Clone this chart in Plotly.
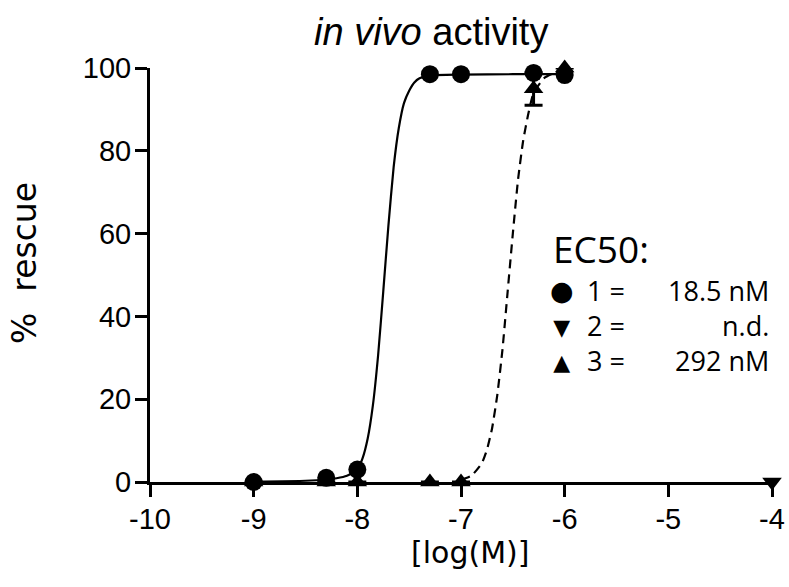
import plotly.graph_objects as go

# Measured points
x_doses = [-9, -8.3, -8, -7.3, -7, -6.3, -6]
y_cmp1 = [0, 1, 3, 98.5, 98.5, 98.8, 98.3]
x_cmp2 = [-4]
y_cmp2 = [0]
y_cmp3 = [0, 0, 0, 0, 0, 95, 100]
err_cmp3 = [0, 0, 0, 0, 0, 4, 0]

# Fitted curves
fit1_x = [-9, -8.5, -8.3, -8.2, -8.1, -8.0, -7.95, -7.9, -7.85, -7.8, -7.75,
          -7.7, -7.65, -7.6, -7.55, -7.5, -7.45, -7.4, -7.3, -7.0, -6.5, -6]
fit1_y = [0.1, 0.3, 0.6, 0.9, 1.5, 3, 5.7, 10.5, 18.5, 30.5, 46,
          62, 76, 85.5, 91.5, 94.5, 96.5, 97.5, 98.2, 98.4, 98.5, 98.5]
fit3_x = [-7.0, -6.9, -6.8, -6.75, -6.7, -6.65, -6.6, -6.55, -6.5, -6.45,
          -6.4, -6.35, -6.3, -6.2, -6.1, -6.0]
fit3_y = [0.5, 1.5, 4.5, 7.8, 13, 21, 32, 46, 60, 73,
          82.5, 89, 94, 97.5, 98.8, 99.3]

legend_symbols = ["●", "▼", "▲"]
legend_labels = ["1 =", "2 =", "3 ="]
legend_values = ["18.5 nM", "n.d.", "292 nM"]

W, H = 789, 587
L, R, T, B = 150, 17, 68, 105
pw, ph = W - L - R, H - T - B


def px(xp):
    return (xp - L) / pw


def py(yp):
    return (H - B - yp) / ph


fig = go.Figure()
fig.add_trace(go.Scatter(x=fit1_x, y=fit1_y, mode="lines",
                         line=dict(color="black", width=2.2, shape="spline", smoothing=0.5),
                         cliponaxis=False, showlegend=False))
fig.add_trace(go.Scatter(x=fit3_x, y=fit3_y, mode="lines",
                         line=dict(color="black", width=2.2, dash="9px,6px", shape="spline", smoothing=0.5),
                         cliponaxis=False, showlegend=False))
fig.add_trace(go.Scatter(x=x_doses, y=y_cmp3, mode="markers",
                         marker=dict(symbol="triangle-up", size=17, color="black"),
                         error_y=dict(type="data", array=err_cmp3, color="black", thickness=3, width=9),
                         cliponaxis=False, showlegend=False))
fig.add_trace(go.Scatter(x=x_cmp2, y=y_cmp2, mode="markers",
                         marker=dict(symbol="triangle-down", size=17, color="black"),
                         cliponaxis=False, showlegend=False))
fig.add_trace(go.Scatter(x=x_doses, y=y_cmp1, mode="markers",
                         marker=dict(symbol="circle", size=18, color="black"),
                         cliponaxis=False, showlegend=False))

arial = "Liberation Sans, Arial, sans-serif"
osans = "Open Sans, Liberation Sans, sans-serif"
dejavu = "DejaVu Sans, sans-serif"

annotations = []
annotations.append(dict(text="<i>in vivo</i> activity", x=px(431), y=py(32),
                        font=dict(family=arial, size=38, color="black")))
annotations.append(dict(text="%  rescue", x=px(24), y=py(263), textangle=-90,
                        font=dict(family=dejavu, size=33, color="black")))
annotations.append(dict(text="[log(M)]", x=px(470), y=py(552),
                        font=dict(family=dejavu, size=30, color="black")))
annotations.append(dict(text="EC50:", x=px(551), y=py(248), xanchor="left",
                        font=dict(family=osans, size=37, color="black")))

# legend block: three columns, one text per column, rows ~35 px apart
row_center = 325
sym_text = "<br>".join(
    '<span style="font-size:%dpx">%s</span>' % (27 if s == "●" else 22, s) for s in legend_symbols)
lab_text = "<br>".join(legend_labels)
val_text = "<br>".join(legend_values)
annotations.append(dict(text=sym_text, x=px(562), y=py(row_center), align="center",
                        font=dict(family=dejavu, size=27, color="black")))
annotations.append(dict(text=lab_text, x=px(585), y=py(row_center), xanchor="left", align="left",
                        font=dict(family=osans, size=27, color="black")))
annotations.append(dict(text=val_text, x=px(771), y=py(row_center), xanchor="right", align="right",
                        font=dict(family=osans, size=27, color="black")))

for a in annotations:
    a.setdefault("xanchor", "center")
    a["yanchor"] = "middle"
    a["xref"] = "paper"
    a["yref"] = "paper"
    a["showarrow"] = False

fig.update_layout(
    width=W, height=H,
    margin=dict(l=L, r=R, t=T, b=B, autoexpand=False),
    plot_bgcolor="white", paper_bgcolor="white",
    annotations=annotations,
    xaxis=dict(range=[-10, -4], tickmode="array", tickvals=[-10, -9, -8, -7, -6, -5, -4],
               ticktext=["-10", "-9", "-8", "-7", "-6", "-5", "-4"], automargin=False,
               showline=True, linecolor="black", linewidth=3, ticks="outside",
               ticklen=12, tickwidth=3, tickcolor="black", showgrid=False, zeroline=False,
               ticklabelstandoff=-3,
               tickfont=dict(family=arial, size=29, color="black")),
    yaxis=dict(range=[0, 100], tickmode="array", tickvals=[0, 20, 40, 60, 80, 100],
               automargin=False,
               showline=True, linecolor="black", linewidth=3, ticks="outside",
               ticklen=12, tickwidth=3, tickcolor="black", showgrid=False, zeroline=False,
               ticklabelstandoff=-2,
               tickfont=dict(family=arial, size=29, color="black")),
)

fig.write_html("out.html", config={"displayModeBar": False},
               post_script="document.body.style.margin='0px';")
